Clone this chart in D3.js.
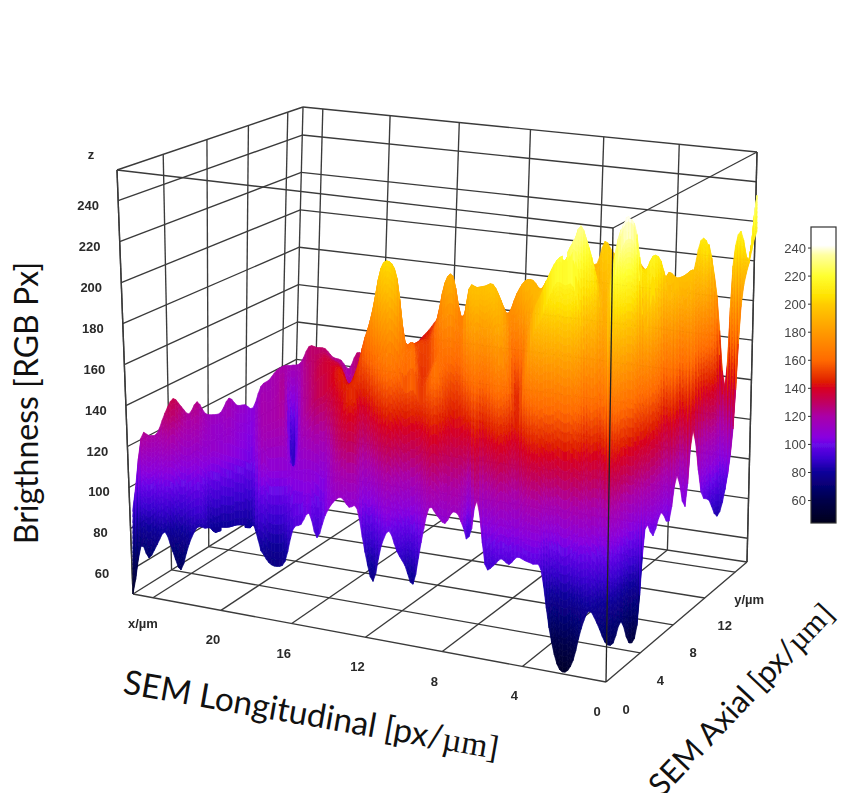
<!DOCTYPE html>
<html><head><meta charset="utf-8">
<style>html,body{margin:0;padding:0;background:#fff;overflow:hidden}svg{display:block}</style>
<script src="https://cdn.jsdelivr.net/npm/d3@7/dist/d3.min.js"></script>
</head><body><svg id="c" width="844" height="793"></svg>
<script>
// ---- data: brightness per column, from the front edge (row0) to the back (row4)
const row0=[48,72,67,74,81,72,64,77,83,83,80,80,80,81,81,82,80,75,74,77,93,96,102,91,102,109,112,108,108,88,75,92,100,91,85,77,97,114,111,108,114,110,89,121,92,92,96,94,98,97,96,94,68,52,49,55,70,79,74,66,63,70,57,62,104,98,106,99,118,100,134,101,94,83,93,120,178,198,215];
const row1=[60,88,88,92,100,98,92,95,98,95,80,80,80,81,81,82,110,107,107,107,107,108,109,108,106,123,136,146,142,125,139,156,166,161,153,155,148,156,163,148,140,141,147,165,148,164,174,160,141,166,189,197,208,216,215,215,197,165,165,155,211,230,235,226,186,203,181,150,172,145,172,141,112,112,96,133,192,200,225];
const row2=[70,105,105,108,115,118,112,110,112,108,110,108,106,104,102,101,116,118,119,118,92,116,124,130,133,140,145,140,148,161,179,200,204,196,164,163,148,152,160,165,165,162,192,195,195,197,190,175,146,170,187,196,204,210,215,223,233,220,203,183,212,220,225,215,206,214,210,190,195,183,188,170,158,143,113,157,205,200,230];
const row3=[80,116,116,116,123,128,122,118,120,113,111,110,112,108,106,104,118,117,119,121,85,118,125,132,136,136,134,124,130,147,140,150,150,145,148,151,152,152,164,184,188,168,175,175,175,178,175,173,182,190,191,187,193,195,196,190,190,200,195,190,200,200,205,200,198,195,190,197,194,195,197,190,205,172,125,180,210,200,233];
const row4=[90,122,121,120,128,133,127,121,125,117,114,113,118,112,110,106,115,116,119,119,117,119,128,128,128,124,123,119,128,127,128,130,132,133,135,135,140,145,151,155,153,148,150,150,150,150,152,155,158,160,162,165,168,170,172,175,180,190,190,202,197,195,195,195,190,190,185,185,180,180,190,208,205,181,135,197,215,200,233];
const rows=[row0,row1,row2,row3,row4];
const rowDepths=[0,0.25,0.5,0.75,1];
// where the surface's lower edge starts away from the front wall
const edgeDepth=row0.map((_,i)=>i===8||i===9?0.12:((i>=10&&i<=15)||i===42?0.25:0));

const zTicks=[60,80,100,120,140,160,180,200,220,240];
const xTicks=[0,4,8,12,16,20,24];
const yTicks=[0,4,8,12,16];
const xTickLabels=["0","4","8","12","16","20","x/µm"];
const yTickLabels=["0","4","8","12","y/µm"];
const zLimits=[48,255], xMax=25.2, yMax=17.6;
const barTicks=[60,80,100,120,140,160,180,200,220,240];
const paletteZ=[44,60,80,90,100,105,120,130,140,145,160,180,200,205,220,235,242,255];
const paletteC=["#00001c","#00004a","#0c0098","#3a00d0","#6a08e8","#8800e0","#aa00a8","#c00060","#d80020","#e02000","#ff6a00","#ff9a00","#ffcc00","#ffe000","#ffff30","#ffffa0","#ffffff","#ffffff"];

const svg=d3.select("#c");
const color=d3.scaleLinear().domain(paletteZ).range(paletteC).clamp(true);
const defs=svg.append("defs");
defs.append("filter").attr("id","soft").attr("filterUnits","userSpaceOnUse")
  .attr("x",0).attr("y",0).attr("width",844).attr("height",793)
  .append("feGaussianBlur").attr("stdDeviation",0.45);
const chart=svg.append("g").attr("filter","url(#soft)");

// ---- box geometry (perspective)
const floorQ={f:[606,682],l:[133,594],b:[293,494],r:[747,562]};
const topQ={f:[613,228],l:[117,170],b:[303,107],r:[757,152]};
function homography(q){ // unit square (0,0)=f,(1,0)=l,(1,1)=b,(0,1)=r
  const [x0,y0]=q.f,[x1,y1]=q.l,[x2,y2]=q.b,[x3,y3]=q.r;
  const sx=x0-x1+x2-x3, sy=y0-y1+y2-y3, dx1=x1-x2, dx2=x3-x2, dy1=y1-y2, dy2=y3-y2;
  const den=dx1*dy2-dx2*dy1, g=(sx*dy2-dx2*sy)/den, h=(dx1*sy-sx*dy1)/den;
  const a=x1-x0+g*x1,b=x3-x0+h*x3,d=y1-y0+g*y1,e=y3-y0+h*y3;
  return (u,v)=>{const w=g*u+h*v+1;return[(a*u+b*v+x0)/w,(d*u+e*v+y0)/w];};
}
const hFloor=homography(floorQ), hTop=homography(topQ);
const xN=d3.scaleLinear().domain([0,xMax]).range([0,1]);
const yN=d3.scaleLinear().domain([0,yMax]).range([0,1]);
const zN=d3.scaleLinear().domain(zLimits).range([0,1]);
function project(x,y,z){
  const a=hFloor(xN(x),yN(y)),b=hTop(xN(x),yN(y)),t=zN(z);
  return [a[0]+(b[0]-a[0])*t,a[1]+(b[1]-a[1])*t];
}
const line=d3.line();
const grid=chart.append("g").attr("fill","none").attr("stroke","#3a3a3a").attr("stroke-width",1.35);
function seg(p,q,g){(g||grid).append("path").attr("d",line([p,q]));}
// walls
zTicks.forEach(z=>{
  seg(project(xMax,0,z),project(xMax,yMax,z));
  seg(project(xMax,yMax,z),project(0,yMax,z));
});
yTicks.concat([yMax]).forEach(y=>seg(project(xMax,y,zLimits[0]),project(xMax,y,zLimits[1])));
xTicks.forEach(x=>seg(project(x,yMax,zLimits[0]),project(x,yMax,zLimits[1])));
// floor
xTicks.concat([xMax]).forEach(x=>seg(project(x,0,zLimits[0]),project(x,yMax,zLimits[0])));
yTicks.concat([yMax]).forEach(y=>seg(project(0,y,zLimits[0]),project(xMax,y,zLimits[0])));
// top and uprights
seg(project(xMax,0,zLimits[1]),project(xMax,yMax,zLimits[1]));
seg(project(xMax,yMax,zLimits[1]),project(0,yMax,zLimits[1]));
seg(project(xMax,0,zLimits[1]),project(0,0,zLimits[1]));
seg(project(0,0,zLimits[1]),project(0,yMax,zLimits[1]));
seg(project(xMax,0,zLimits[0]),project(xMax,0,zLimits[1]));
seg(project(0,yMax,zLimits[0]),project(0,yMax,zLimits[1]));

// ---- surface
const nCol=row0.length;
const colX=d3.scaleLinear().domain([0,nCol-1]).range([133,757]);
const frontFloor=d3.scaleLinear().domain([133,606,747,757]).range([594,682,562,562]);
const backFloor=d3.scaleLinear().domain([133,293,747,757]).range([594,494,562,562]);
const frontK=d3.scaleLinear().domain([133,606,757]).range([2.05,2.19,1.98]);
const backK=d3.scaleLinear().domain([133,293,757]).range([2.05,1.87,1.98]);
function cr(a,b,c,d,t){return 0.5*(2*b+(c-a)*t+(2*a-5*b+4*c-d)*t*t+(3*b-a-3*c+d)*t*t*t);}
const sub=3;
const fine=rows.map(r=>{
  const out=[];
  for(let i=0;i<nCol-1;i++){
    for(let s=0;s<sub;s++){
      out.push(Math.max(46,cr(r[Math.max(0,i-1)],r[i],r[i+1],r[Math.min(nCol-1,i+2)],s/sub)));
    }
  }
  out.push(r[nCol-1]);return out;
});
const fineEdge=[];
for(let i=0;i<nCol-1;i++)for(let s=0;s<sub;s++)fineEdge.push(edgeDepth[i]+(edgeDepth[i+1]-edgeDepth[i])*s/sub);
fineEdge.push(edgeDepth[nCol-1]);
const nFine=fine[0].length;
const fineX=d3.scaleLinear().domain([0,nFine-1]).range(colX.range());
function pt(c,depth,z){
  const sx=fineX(c),v=Math.max(depth,fineEdge[c]);
  const fl=frontFloor(sx)+(backFloor(sx)-frontFloor(sx))*v;
  const k=frontK(sx)+(backK(sx)-frontK(sx))*v;
  return [sx,fl-(z-zLimits[0])*k];
}
function zAt(c,g,t){
  const R=rows.length;
  const a=fine[Math.max(0,g-1)][c],b=fine[g][c],cc=fine[g+1][c],d=fine[Math.min(R-1,g+2)][c];
  const val=cr(a,b,cc,d,t),lo=Math.min(b,cc),hi=Math.max(b,cc);
  return Math.max(lo-6,Math.min(hi+6,val));
}
const quads=[];
for(let g=rows.length-2;g>=0;g--){
  for(let c=0;c<nFine-1;c++){
    const dz=Math.max(Math.abs(fine[g+1][c]-fine[g][c]),Math.abs(fine[g+1][c+1]-fine[g][c+1]));
    const n=Math.ceil(dz/3.5)+1;
    for(let s=n-1;s>=0;s--){
      const t0=s/n,t1=(s+1)/n;
      const d0=rowDepths[g]+(rowDepths[g+1]-rowDepths[g])*t0,d1=rowDepths[g]+(rowDepths[g+1]-rowDepths[g])*t1;
      const z00=zAt(c,g,t0),z01=zAt(c,g,t1),z10=zAt(c+1,g,t0),z11=zAt(c+1,g,t1);
      quads.push({p:[pt(c,d0,z00),pt(c+1,d0,z10),pt(c+1,d1,z11),pt(c,d1,z01)],z:(z00+z01+z10+z11)/4});
    }
  }
}
chart.append("g").selectAll("path").data(quads).join("path")
  .attr("d",d=>line(d.p)+"Z").attr("fill",d=>color(d.z)).attr("stroke",d=>color(d.z)).attr("stroke-width",0.7);

// front upright on top of the surface
const over=chart.append("g").attr("fill","none").attr("stroke","#222").attr("stroke-width",1.3);
seg(project(0,0,zLimits[0]),project(0,0,zLimits[1]),over);

// ---- tick labels
const tf="Arial, 'Liberation Sans', sans-serif";
const ticks=chart.append("g").attr("font-family",tf).attr("font-weight","bold").attr("font-size",13).attr("fill","#2a2a2a").attr("text-anchor","middle");
zTicks.forEach(z=>{const p=project(xMax,0,z);ticks.append("text").attr("x",p[0]-30).attr("y",p[1]+9).text(z);});
ticks.append("text").attr("x",91).attr("y",159).text("z");
xTicks.forEach((x,i)=>{const p=project(x,0,zLimits[0]);
  ticks.append("text").attr("x",p[0]-(i===6?10:(i===0?9:8))).attr("y",p[1]+(i===6?30:34)).text(xTickLabels[i]);});
yTicks.forEach((y,i)=>{const p=project(0,y,zLimits[0]);
  ticks.append("text").attr("x",p[0]+(i===4?14:20)).attr("y",p[1]+32).text(yTickLabels[i]);});

// ---- colour bar
const barY=d3.scaleLinear().domain([44,255]).range([523,227]);
const grad=defs.append("linearGradient").attr("id","bar").attr("x1",0).attr("x2",0).attr("y1",1).attr("y2",0);
paletteZ.forEach((z,i)=>grad.append("stop").attr("offset",(z-44)/(255-44)).attr("stop-color",paletteC[i]));
chart.append("rect").attr("x",811).attr("y",227).attr("width",25).attr("height",296).attr("fill","url(#bar)").attr("stroke","#333").attr("stroke-width",1.2);
const bar=chart.append("g").attr("font-family",tf).attr("font-size",13).attr("fill","#444");
barTicks.forEach(z=>{
  bar.append("line").attr("x1",808).attr("x2",811).attr("y1",barY(z)).attr("y2",barY(z)).attr("stroke","#333");
  bar.append("text").attr("x",806).attr("y",barY(z)+4.5).attr("text-anchor","end").text(z);
});

// ---- axis titles
const title=svg.append("g").attr("font-family","Lato, 'Open Sans', sans-serif").attr("font-size",32).attr("fill","#111");
title.append("text").attr("transform","translate(38,403) rotate(-90)").attr("text-anchor","middle").text("Brigthness [RGB Px]");
const t2=title.append("text").attr("transform","translate(122,693) rotate(10)").attr("font-size",33.4).text("SEM Longitudinal [px/");
t2.append("tspan").attr("font-family","'Liberation Serif', serif").text("µm]");
const t3=title.append("text").attr("transform","translate(662,798) rotate(-46.5)").attr("font-size",31).text("SEM Axial [px/");
t3.append("tspan").attr("font-family","'Liberation Serif', serif").text("µm]");
</script></body></html>
